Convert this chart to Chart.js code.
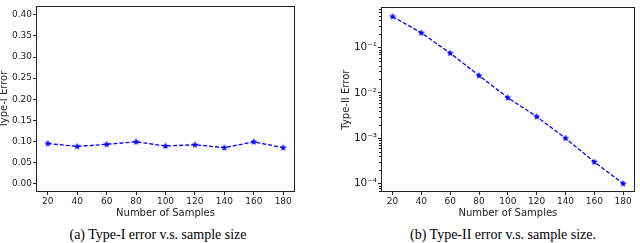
<!DOCTYPE html>
<html>
<head>
<meta charset="utf-8">
<script src="https://cdn.jsdelivr.net/npm/chart.js@4"></script>
<style>
  html, body { margin: 0; padding: 0; background: #fff; }
  #wrap { position: relative; width: 640px; height: 243px; overflow: hidden; }
  .panel { position: absolute; top: 0; width: 320px; height: 222px; }
  .caption { position: absolute; top: 227px; font-family: "Liberation Serif", serif; font-size: 14px;
             line-height: 15px; white-space: nowrap; transform: translateX(-50%); color: #000; }
</style>
</head>
<body>
<div id="wrap">
  <div class="panel" style="left:0"><canvas id="typeOne" width="320" height="222"></canvas></div>
  <div class="panel" style="left:320px"><canvas id="typeTwo" width="320" height="222"></canvas></div>
  <div class="caption" style="left:158px">(a) Type-I error v.s. sample size</div>
  <div class="caption" style="left:503px">(b) Type-II error v.s. sample size.</div>
</div>
<script>
// data
const sampleSizes = [20, 40, 60, 80, 100, 120, 140, 160, 180];
const typeOneError = [0.095, 0.088, 0.093, 0.099, 0.089, 0.092, 0.085, 0.099, 0.085];
const typeTwoError = [0.48, 0.21, 0.075, 0.024, 0.0078, 0.003, 0.001, 0.0003, 0.0001];
const xTicks = [20, 40, 60, 80, 100, 120, 140, 160, 180];
const yTicksLinear = [0, 0.05, 0.10, 0.15, 0.20, 0.25, 0.30, 0.35, 0.40];
const yTicksLog = [1e-4, 1e-3, 1e-2, 1e-1];
const logLabels = ['10\u207B\u2074', '10\u207B\u00B3', '10\u207B\u00B2', '10\u207B\u00B9'];

const FONT = '"DejaVu Sans", sans-serif';
const BLUE = '#0000ff';

// filled star marker like matplotlib '*'
function makeStar(r) {
    const c = document.createElement('canvas');
    const s = Math.ceil(r * 2) + 2;
    c.width = s; c.height = s;
    const g = c.getContext('2d');
    const cx = s / 2, cy = s / 2;
    g.beginPath();
    for (let i = 0; i < 10; i++) {
        const rr = i % 2 === 0 ? r : r * 0.45;
        const a = -Math.PI / 2 + i * Math.PI / 5;
        g.lineTo(cx + rr * Math.cos(a), cy + rr * Math.sin(a));
    }
    g.closePath();
    g.fillStyle = BLUE;
    g.fill();
    return c;
}
const star = makeStar(3.7);

// box around the plot area + minor ticks
const framePlugin = {
    id: 'frame',
    afterDraw(chart) {
        const a = chart.chartArea, ctx = chart.ctx;
        ctx.save();
        ctx.strokeStyle = '#222';
        ctx.lineWidth = 1;
        ctx.strokeRect(Math.round(a.left) + 0.5, Math.round(a.top) + 0.5,
            Math.round(a.right - a.left) - 1, Math.round(a.bottom - a.top) - 1);
        const y = chart.scales.y;
        if (y.type === 'logarithmic') {
            ctx.beginPath();
            for (let e = -5; e <= 0; e++) {
                for (let m = 2; m <= 9; m++) {
                    const v = m * Math.pow(10, e);
                    if (v < y.min || v > y.max) continue;
                    const py = Math.round(y.getPixelForValue(v)) + 0.5;
                    ctx.moveTo(a.left, py);
                    ctx.lineTo(a.left - 2, py);
                }
            }
            ctx.stroke();
        }
        ctx.restore();
    }
};

function buildChart(id, values, yScale, yTitle, yWidth, padRight, titlePad) {
    return new Chart(document.getElementById(id), {
        type: 'line',
        data: {
            datasets: [{
                data: sampleSizes.map((x, i) => ({ x: x, y: values[i] })),
                borderColor: BLUE,
                backgroundColor: BLUE,
                borderWidth: 1.3,
                borderDash: [4, 2],
                pointStyle: star,
                tension: 0,
                fill: false
            }]
        },
        options: {
            responsive: false,
            animation: false,
            layout: { padding: { left: 0, right: padRight, top: 0, bottom: 0 } },
            plugins: { legend: { display: false }, tooltip: { enabled: false } },
            scales: {
                x: {
                    type: 'linear',
                    min: 12,
                    max: 188,
                    afterBuildTicks: s => { s.ticks = xTicks.map(v => ({ value: v })); },
                    afterFit: s => { s.height = 30; },
                    grid: { drawOnChartArea: false, tickLength: 3, tickColor: '#222' },
                    border: { display: false },
                    ticks: { font: { family: FONT, size: 9 }, color: '#222', padding: 1, maxRotation: 0 },
                    title: { display: true, text: 'Number of Samples', color: '#222',
                             font: { family: FONT, size: 10 }, padding: { top: 0, bottom: 3 } }
                },
                y: Object.assign({
                    afterFit: s => { s.width = yWidth; },
                    grid: { drawOnChartArea: false, tickLength: 3, tickColor: '#222' },
                    border: { display: false },
                    title: { display: true, text: yTitle, color: '#222',
                             font: { family: FONT, size: 10 }, padding: { top: titlePad, bottom: 0 } }
                }, yScale)
            }
        },
        plugins: [framePlugin]
    });
}

buildChart('typeOne', typeOneError, {
    type: 'linear',
    min: -0.02,
    max: 0.42,
    afterBuildTicks: s => { s.ticks = yTicksLinear.map(v => ({ value: v })); },
    ticks: { font: { family: FONT, size: 9 }, color: '#222', padding: 1,
             callback: v => v.toFixed(2) }
}, 'Type-I Error', 36, 25, -2);

buildChart('typeTwo', typeTwoError, {
    type: 'logarithmic',
    min: Math.pow(10, -4.185),
    max: Math.pow(10, -0.115),
    afterBuildTicks: s => { s.ticks = yTicksLog.map(v => ({ value: v })); },
    ticks: { font: { family: FONT, size: 10.5 }, color: '#222', padding: 1,
             callback: (v, i) => logLabels[i] }
}, 'Type-II Error', 61, 2, 20);
</script>
</body>
</html>
